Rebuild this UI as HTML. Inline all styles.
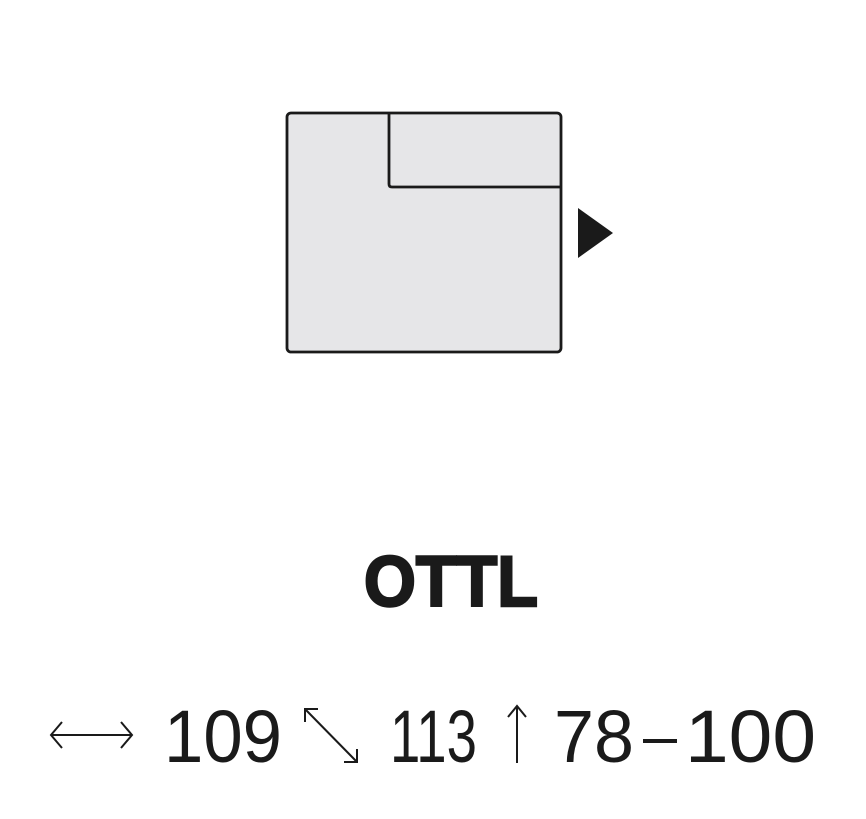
<!DOCTYPE html>
<html><head><style>html,body{margin:0;padding:0;background:#fff}</style></head>
<body>
<svg width="866" height="814" viewBox="0 0 866 814" xmlns="http://www.w3.org/2000/svg">
<rect x="287" y="113" width="274" height="239" rx="4" fill="#e6e6e8" stroke="#1a1a1a" stroke-width="2.8"/>
<path d="M389 113 V184 Q389 187 392 187 H560" fill="none" stroke="#1a1a1a" stroke-width="2.8"/>
<polygon points="578,208 613,233 578,258" fill="#1a1a1a"/>
<text x="364" y="606" textLength="174" lengthAdjust="spacingAndGlyphs" font-family="Liberation Sans, sans-serif" font-weight="bold" font-size="71" fill="#1a1a1a" stroke="#1a1a1a" stroke-width="2.5">OTTL</text>
<g stroke="#1a1a1a" stroke-width="2" fill="none">
<line x1="51" y1="735" x2="132" y2="735"/>
<polyline points="62,722 51,735 62,748"/>
<polyline points="121,722 132,735 121,748"/>
<line x1="305" y1="709" x2="357" y2="762"/>
<polyline points="305,722 305,709 318,709"/>
<polyline points="344,762 357,762 357,749"/>
<line x1="517" y1="707" x2="517" y2="763"/>
<polyline points="508,717 517,706 526,717"/>
</g>
<g font-family="Liberation Sans, sans-serif" font-size="74" fill="#1a1a1a">
<text x="164" y="762" textLength="118" lengthAdjust="spacingAndGlyphs">109</text>
<text x="390" y="762" textLength="87" lengthAdjust="spacingAndGlyphs">113</text>
<text x="554" y="762" textLength="80" lengthAdjust="spacingAndGlyphs">78</text>
<text x="685" y="762" textLength="131" lengthAdjust="spacingAndGlyphs">100</text>
</g>
<rect x="643" y="739" width="34" height="4" fill="#1a1a1a"/>
</svg>
</body></html>
